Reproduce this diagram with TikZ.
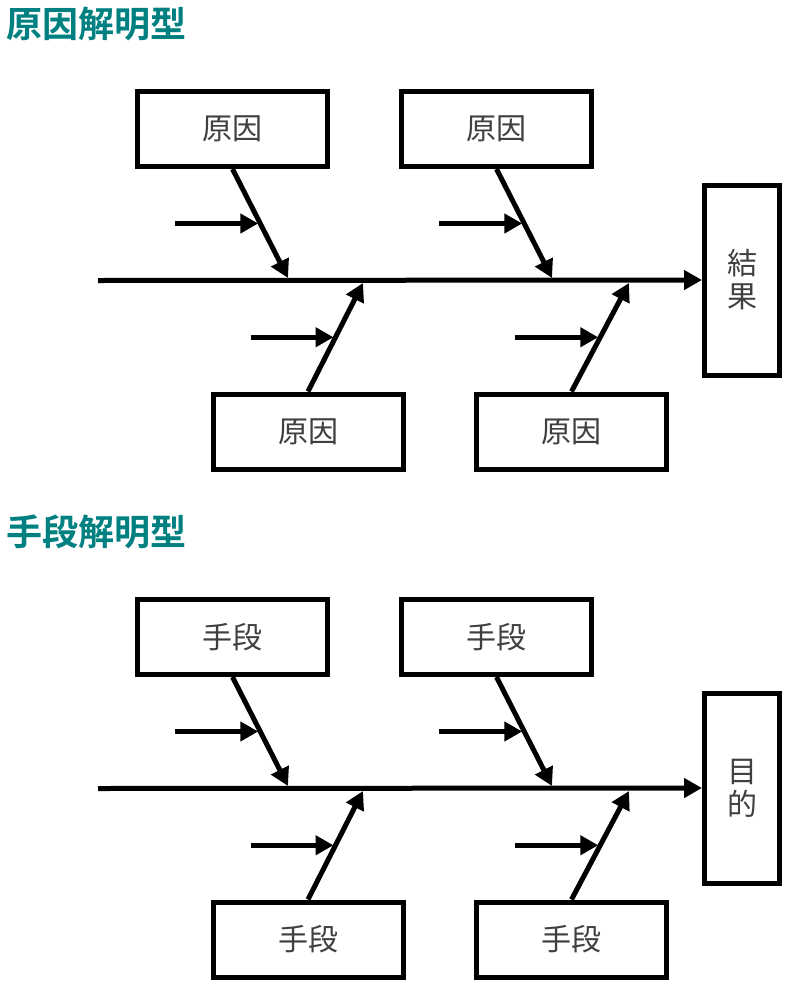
\documentclass[tikz,border=0pt]{standalone}
\usepackage{fontspec}
\setmainfont{Noto Sans CJK JP}[BoldFont={Noto Sans CJK JP Bold}]
\usetikzlibrary{arrows.meta,calc}
\definecolor{titleteal}{RGB}{0,128,128}

\tikzset{
  bone/.style={line width=5pt,-{Triangle[length=18pt,width=19pt]}},
  causebox/.style={draw,line width=5pt,minimum width=190pt,minimum height=75pt,
    inner sep=0pt,text=black!75,font=\fontsize{30}{33}\selectfont},
  effectbox/.style={causebox,minimum width=75pt,minimum height=190pt,align=center},
  heading/.style={anchor=west,inner sep=0pt,text=titleteal,
    font=\fontsize{36}{40}\selectfont\bfseries}
}

\begin{document}
\begin{tikzpicture}[x=1pt,y=-1pt]
  \useasboundingbox (0,0) rectangle (799,991);

  \foreach \dy/\ttl/\cause/\effect in {0/原因解明型/原因/結\\果, 508/手段解明型/手段/目\\的} {
  \begin{scope}[shift={(0,\dy)}]
    \node[heading] (title) at (6,24) {\ttl};

    \node[causebox] (cause 1) at (232.5,129) {\cause};
    \node[causebox] (cause 2) at (496.5,129) {\cause};
    \node[causebox] (cause 3) at (308,431.5) {\cause};
    \node[causebox] (cause 4) at (571.5,431.5) {\cause};
    \node[effectbox] (effect) at (742,280) {\effect};

    \coordinate (tail) at (98,280.5);
    \coordinate (head 1) at (288,278);
    \coordinate (head 2) at (552,278);
    \coordinate (head 3) at (363,283);
    \coordinate (head 4) at (629,283);

    % spine and bones
    \draw[bone] (tail) -- (effect.west);
    \draw[bone] (cause 1.south) -- (head 1);
    \draw[bone] (cause 2.south) -- (head 2);
    \draw[bone] (cause 3.north) -- (head 3);
    \draw[bone] (cause 4.north) -- (head 4);

    % small arrows onto the bones
    \coordinate (mid 1) at ($(cause 1.south)!.5!(head 1)$);
    \coordinate (mid 2) at ($(cause 2.south)!.5!(head 2)$);
    \coordinate (mid 3) at ($(cause 3.north)!.5!(head 3)$);
    \coordinate (mid 4) at ($(cause 4.north)!.5!(head 4)$);
    \foreach \i in {1,...,4}
      \draw[bone,shorten >=2pt] ($(mid \i)+(-85,0)$) -- (mid \i);
  \end{scope}
  }
\end{tikzpicture}
\end{document}
